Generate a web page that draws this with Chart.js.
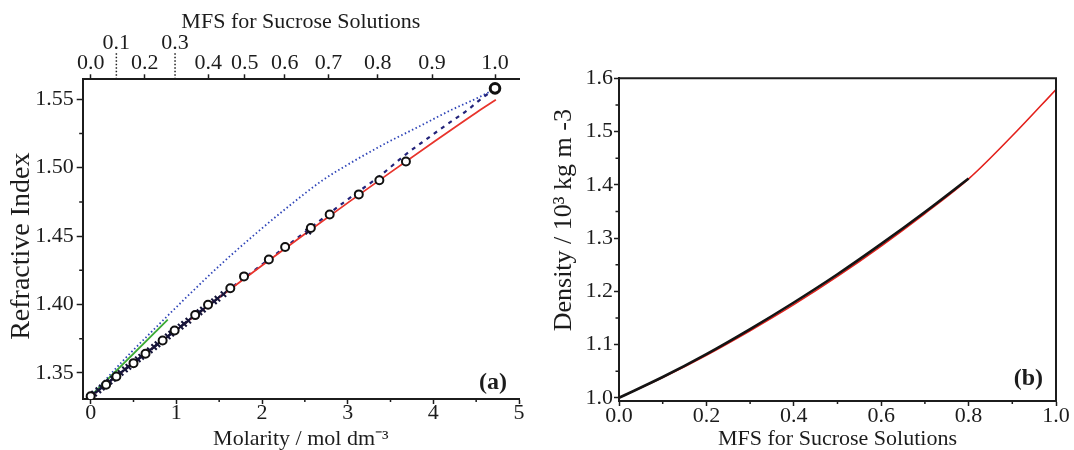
<!DOCTYPE html>
<html><head><meta charset="utf-8">
<script src="https://cdn.jsdelivr.net/npm/chart.js@4"></script>
<style>
html,body{margin:0;padding:0;background:#fff;width:1074px;height:450px;overflow:hidden}
.box{position:absolute;top:0;height:450px}
</style></head><body>
<div class="box" style="left:0;width:540px"><canvas id="ca"></canvas></div>
<div class="box" style="left:540px;width:534px"><canvas id="cb"></canvas></div>
<script>
// ---------- Panel (a): refractive index vs molarity ----------
const circleMolarity = [0, 0.18, 0.30, 0.50, 0.64, 0.84, 0.98, 1.22, 1.37, 1.63, 1.79, 2.08, 2.27, 2.57, 2.79, 3.13, 3.37, 3.68];
const circleRI       = [1.3330, 1.3414, 1.3474, 1.3572, 1.3641, 1.3738, 1.3811, 1.3923, 1.3999, 1.4119, 1.4206, 1.4329, 1.4421, 1.4560, 1.4658, 1.4805, 1.4909, 1.5046];
const pureMolarity = [4.72];
const pureRI       = [1.5580];
const crossMolarity = [0.04, 0.09, 0.13, 0.22, 0.26, 0.35, 0.40, 0.44, 0.55, 0.59, 0.69, 0.74, 0.78, 0.90, 0.94, 1.05, 1.09, 1.14, 1.27, 1.31, 1.44, 1.48, 1.55, 2.54];
const crossRI       = [1.3350, 1.3374, 1.3394, 1.3438, 1.3458, 1.3501, 1.3526, 1.3545, 1.3600, 1.3618, 1.3666, 1.3690, 1.3710, 1.3767, 1.3787, 1.3839, 1.3859, 1.3882, 1.3944, 1.3963, 1.4024, 1.4043, 1.4076, 1.4534];
const redMolarity = [0, 0.5, 1, 1.5, 2, 2.5, 3, 3.5, 4, 4.5, 4.73];
const redRI       = [1.3330, 1.3574, 1.3815, 1.4052, 1.4286, 1.4516, 1.4743, 1.4966, 1.5186, 1.5402, 1.5496];
const dashMolarity = [0, 0.5, 1, 1.5, 2, 2.5, 3, 3.37, 3.68, 3.95, 4.12, 4.39, 4.59, 4.72];
const dashRI       = [1.3330, 1.3576, 1.3817, 1.4055, 1.4292, 1.4528, 1.4768, 1.4937, 1.5098, 1.5222, 1.5299, 1.5417, 1.5519, 1.5575];
const dotMolarity = [0, 0.38, 0.77, 1.155, 1.54, 1.93, 2.32, 2.705, 3.09, 3.48, 3.83, 4.22, 4.50, 4.72];
const dotRI       = [1.3330, 1.3591, 1.3838, 1.4076, 1.4305, 1.4520, 1.4722, 1.4907, 1.5055, 1.5190, 1.5300, 1.5425, 1.5505, 1.5575];
const greenMolarity = [0, 0.90];
const greenRI       = [1.3330, 1.3890];

const molarityTicks = [0, 1, 2, 3, 4, 5];
const molarityMinor = [0.5, 1.5, 2.5, 3.5, 4.5];
const riTicks = [1.35, 1.40, 1.45, 1.50, 1.55];
const riMinor = [1.375, 1.425, 1.475, 1.525];
// top axis: MFS labels placed at the molarity they correspond to
const mfsTickMolarity = [0, 0.30, 0.63, 0.985, 1.373, 1.80, 2.265, 2.775, 3.35, 3.985, 4.72];
const mfsTickLabels   = ['0.0', '0.1', '0.2', '0.3', '0.4', '0.5', '0.6', '0.7', '0.8', '0.9', '1.0'];
const mfsTickRaised   = [false, true, false, true, false, false, false, false, false, false, false];

// ---------- Panel (b): density vs MFS ----------
const mfsRed   = [0, 0.1, 0.2, 0.3, 0.4, 0.5, 0.6, 0.7, 0.8, 0.9, 1.0];
const densRed  = [1.000, 1.038, 1.080, 1.126, 1.175, 1.228, 1.285, 1.346, 1.411, 1.492, 1.579];
const mfsBlack  = [0, 0.1, 0.2, 0.3, 0.4, 0.5, 0.6, 0.7, 0.8];
const densBlack = [1.000, 1.039, 1.082, 1.129, 1.179, 1.232, 1.289, 1.349, 1.412];
const mfsTicksB = [0, 0.2, 0.4, 0.6, 0.8, 1.0];
const mfsMinorB = [0.1, 0.3, 0.5, 0.7, 0.9];
const densTicks = [1.0, 1.1, 1.2, 1.3, 1.4, 1.5, 1.6];
const densMinor = [1.05, 1.15, 1.25, 1.35, 1.45, 1.55];

const FONT = "'Liberation Serif', 'Times New Roman', serif";
const INK = '#1c1c1c';
Chart.defaults.font.family = FONT;
Chart.defaults.color = INK;

const pts = (xs, ys) => xs.map((x, i) => ({x, y: ys[i]}));
const fixW = w => s => { s.width = w; s.paddingTop = 0; s.paddingBottom = 0; s.paddingLeft = 0; s.paddingRight = 0; };
const fixH = h => s => { s.height = h; s.paddingTop = 0; s.paddingBottom = 0; s.paddingLeft = 0; s.paddingRight = 0; };
const setTicks = arr => s => { s.ticks = arr.map(v => ({value: v})); };

const decor = {
  id: 'decor',
  afterDraw(chart, args, o) {
    const ctx = chart.ctx, a = chart.chartArea, sx = chart.scales.x, sy = chart.scales.y;
    ctx.save();
    ctx.strokeStyle = INK;
    ctx.lineWidth = 1.5;
    ctx.beginPath();
    (o.minorX || []).forEach(v => { const p = sx.getPixelForValue(v); ctx.moveTo(p, a.bottom); ctx.lineTo(p, a.bottom + 3); });
    (o.minorY || []).forEach(v => { const p = sy.getPixelForValue(v); ctx.moveTo(a.left, p); ctx.lineTo(a.left - 3.5, p); });
    ctx.stroke();
    if (o.box) {
      ctx.lineWidth = 2;
      ctx.beginPath();
      ctx.moveTo(a.left, a.top); ctx.lineTo(a.right, a.top); ctx.lineTo(a.right, a.bottom);
      ctx.stroke();
    }
    if (o.raised) {
      const s2 = chart.scales.x2;
      ctx.lineWidth = 1.5;
      ctx.setLineDash([1.5, 2]);
      ctx.beginPath();
      o.raised.forEach((r, i) => {
        if (!r) return;
        const p = s2.getPixelForValue(o.raisedAt[i]);
        ctx.moveTo(p, a.top - 26); ctx.lineTo(p, a.top);
      });
      ctx.stroke();
      ctx.setLineDash([]);
    }
    if (o.label) {
      ctx.fillStyle = INK;
      ctx.font = "bold 24px " + FONT;
      ctx.textAlign = 'right';
      ctx.textBaseline = 'middle';
      ctx.fillText(o.label, a.right - o.lx, a.bottom - o.ly);
    }
    ctx.restore();
  }
};

const tickFont = {family: FONT, size: 22, lineHeight: 0.92};
const titleFont = {family: FONT, size: 22, lineHeight: 1};

const chartA = new Chart(document.getElementById('ca'), {
  type: 'scatter',
  data: {
    datasets: [
      {data: pts(pureMolarity, pureRI), pointStyle: 'circle', pointRadius: 4.8, borderWidth: 3, borderColor: '#111', backgroundColor: '#fff'},
      {data: pts(circleMolarity, circleRI), pointStyle: 'circle', pointRadius: 4, borderWidth: 2, borderColor: '#111', backgroundColor: '#fff'},
      {data: pts(crossMolarity, crossRI), pointStyle: 'crossRot', pointRadius: 3.8, borderWidth: 2, borderColor: '#15153a', backgroundColor: '#15153a'},
      {data: pts(greenMolarity, greenRI), showLine: true, pointRadius: 0, borderColor: '#3aaa35', borderWidth: 1.8},
      {data: pts(redMolarity, redRI), showLine: true, pointRadius: 0, borderColor: '#e8342c', borderWidth: 1.8, cubicInterpolationMode: 'monotone'},
      {data: pts(dashMolarity, dashRI), showLine: true, pointRadius: 0, borderColor: '#23237a', borderWidth: 2.2, borderDash: [4, 5], cubicInterpolationMode: 'monotone'},
      {data: pts(dotMolarity, dotRI), showLine: true, pointRadius: 0, borderColor: '#2f45b8', borderWidth: 1.8, borderDash: [1.5, 2.5], cubicInterpolationMode: 'monotone'}
    ]
  },
  options: {
    responsive: true, maintainAspectRatio: false, animation: false,
    layout: {padding: {left: 0, top: 0, right: 21, bottom: 0}},
    plugins: {
      legend: {display: false}, tooltip: {enabled: false},
      decor: {minorX: molarityMinor, minorY: riMinor, raised: mfsTickRaised, raisedAt: mfsTickMolarity, label: '(a)', lx: 12, ly: 16}
    },
    scales: {
      x: {
        type: 'linear', position: 'bottom', min: -0.093, max: 5,
        afterBuildTicks: setTicks(molarityTicks), afterFit: fixH(51),
        ticks: {font: tickFont, padding: -1, autoSkip: false, maxRotation: 0, callback: v => String(v)},
        grid: {drawOnChartArea: false, tickLength: 5, tickWidth: 1.5, tickColor: INK},
        border: {display: true, color: INK, width: 2},
        title: {display: true, text: 'Molarity / mol dm⁻³', font: titleFont, padding: {top: 0, bottom: 0}}
      },
      x2: {
        type: 'linear', position: 'top', min: -0.093, max: 5,
        afterBuildTicks: setTicks(mfsTickMolarity), afterFit: fixH(79.3),
        ticks: {font: tickFont, padding: 1, autoSkip: false, maxRotation: 0,
          callback: (v, i) => mfsTickRaised[i] ? [mfsTickLabels[i], ''] : mfsTickLabels[i]},
        grid: {drawOnChartArea: false, tickLength: 5, tickWidth: 1.5,
          tickColor: c => mfsTickRaised[c.index] ? 'rgba(0,0,0,0)' : INK},
        border: {display: true, color: INK, width: 2},
        title: {display: true, text: 'MFS for Sucrose Solutions', font: titleFont, padding: {top: 11, bottom: 0}}
      },
      y: {
        type: 'linear', position: 'left', min: 1.331, max: 1.5646,
        afterBuildTicks: setTicks(riTicks), afterFit: fixW(82.7),
        ticks: {font: tickFont, padding: 3, callback: v => v.toFixed(2)},
        grid: {drawOnChartArea: false, tickLength: 6, tickWidth: 1.5, tickColor: INK},
        border: {display: true, color: INK, width: 2},
        title: {display: true, text: 'Refractive Index\u00a0\u00a0', font: {family: FONT, size: 28, lineHeight: 1}, padding: {top: 8, bottom: 0}}
      }
    }
  },
  plugins: [decor]
});

const chartB = new Chart(document.getElementById('cb'), {
  type: 'scatter',
  data: {
    datasets: [
      {data: pts(mfsBlack, densBlack), showLine: true, pointRadius: 0, borderColor: '#141414', borderWidth: 2.6, cubicInterpolationMode: 'monotone'},
      {data: pts(mfsRed, densRed), showLine: true, pointRadius: 0, borderColor: '#e3201b', borderWidth: 1.6, cubicInterpolationMode: 'monotone'}
    ]
  },
  options: {
    responsive: true, maintainAspectRatio: false, animation: false,
    layout: {padding: {left: 0, top: 78.3, right: 18, bottom: 0}},
    plugins: {
      legend: {display: false}, tooltip: {enabled: false},
      decor: {minorX: mfsMinorB, minorY: densMinor, box: true, label: '(b)', lx: 13, ly: 22}
    },
    scales: {
      x: {
        type: 'linear', position: 'bottom', min: 0, max: 1,
        afterBuildTicks: setTicks(mfsTicksB), afterFit: fixH(49),
        ticks: {font: tickFont, padding: 0, autoSkip: false, maxRotation: 0, callback: v => v.toFixed(1)},
        grid: {drawOnChartArea: false, tickLength: 5, tickWidth: 1.5, tickColor: INK},
        border: {display: true, color: INK, width: 2},
        title: {display: true, text: 'MFS for Sucrose Solutions', font: titleFont, padding: {top: 0, bottom: 0}}
      },
      y: {
        type: 'linear', position: 'left', min: 0.994, max: 1.6,
        afterBuildTicks: setTicks(densTicks), afterFit: fixW(79),
        ticks: {font: tickFont, padding: 1, callback: v => v.toFixed(1)},
        grid: {drawOnChartArea: false, tickLength: 5, tickWidth: 1.5, tickColor: INK},
        border: {display: true, color: INK, width: 2},
        title: {display: true, text: '\u00a0\u00a0\u00a0\u00a0\u00a0\u00a0Density / 10³ kg m -3', font: {family: FONT, size: 26, lineHeight: 1}, padding: {top: 11, bottom: 0}}
      }
    }
  },
  plugins: [decor]
});
</script>
</body></html>
